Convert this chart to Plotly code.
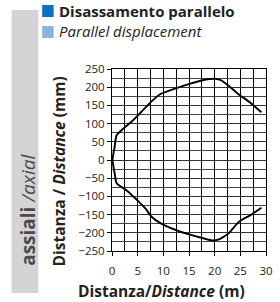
import plotly.graph_objects as go

# Envelope of parallel displacement
distance_m = [29.1, 26.9, 24.7, 22.9, 21.3, 20.1, 17.6, 15.1, 12.7, 9.3, 7.7, 5.3, 4.0, 3.1, 0.9, 0.5, 0.1,
              0.5, 0.9, 2.8, 5.25, 6.5, 7.7, 9.6, 13.3, 16.4, 19.5, 20.7, 22.6, 24.7, 26.9, 29.1]
offset_mm = [131, 158, 180, 202, 219, 223, 219, 209, 198, 180, 161, 126, 108, 97, 68, 35, 0,
             -35, -64, -83, -115, -133, -156, -175, -197, -210, -221, -219, -203, -170, -152, -131]

x_ticks = [0, 5, 10, 15, 20, 25, 30]
y_ticks = [250, 200, 150, 100, 50, 0, -50, -100, -150, -200, -250]

W, H = 280, 302
L, R, T, B = 112, 7, 69, 51
PW, PH = W - L - R, H - T - B

def px(x):
    return (x - L) / PW

def py(y):
    return (H - B - y) / PH

FONT = "Open Sans"

fig = go.Figure()
fig.add_trace(go.Scatter(x=distance_m, y=offset_mm, mode="lines",
                         line=dict(color="black", width=1.9, shape="spline", smoothing=0.5),
                         hoverinfo="skip", showlegend=False))

fig.update_layout(
    width=W, height=H,
    margin=dict(l=L, r=R, t=T, b=B),
    paper_bgcolor="white", plot_bgcolor="white",
    font=dict(family=FONT, color="#222", size=11.5),
    xaxis=dict(range=[0, 30], tickvals=x_ticks, ticks="outside", ticklen=4, tickcolor="black",
               showgrid=True, gridcolor="black", gridwidth=1,
               minor=dict(dtick=2.5, showgrid=True, gridcolor="black", gridwidth=1),
               showline=True, linecolor="black", linewidth=1, mirror=True,
               zeroline=False, ticklabelstandoff=5,
               tickfont=dict(size=11.5, family=FONT)),
    yaxis=dict(range=[-250, 250], tickvals=y_ticks, ticks="outside", ticklen=4, tickcolor="black",
               showgrid=True, gridcolor="#333", gridwidth=1,
               minor=dict(dtick=25, showgrid=True, gridcolor="#444", gridwidth=1),
               showline=True, linecolor="black", linewidth=1, mirror=True,
               zeroline=False, tickfont=dict(size=11.5, family=FONT)),
    shapes=[
        dict(type="rect", xref="paper", yref="paper", x0=px(7), x1=px(35), y0=py(293), y1=py(10),
             fillcolor="#d4d4d6", line=dict(width=0), layer="below"),
        dict(type="rect", xref="paper", yref="paper", x0=px(39), x1=px(51), y0=py(17), y1=py(5),
             fillcolor="#0a72bf", line=dict(width=0)),
        dict(type="rect", xref="paper", yref="paper", x0=px(39), x1=px(51), y0=py(38), y1=py(26),
             fillcolor="#8ab3df", line=dict(width=0)),
    ],
    annotations=[
        dict(text="<b>Disassamento parallelo</b>", xref="paper", yref="paper", x=px(54), y=py(11),
             xanchor="left", yanchor="middle", showarrow=False, font=dict(size=15, color="#222", family=FONT)),
        dict(text="<i>Parallel displacement</i>", xref="paper", yref="paper", x=px(54), y=py(31),
             xanchor="left", yanchor="middle", showarrow=False, font=dict(size=15, color="#222", family=FONT)),
        dict(text="<b>assiali</b> <i>/axial</i>", xref="paper", yref="paper", x=px(24), y=py(210),
             xanchor="center", yanchor="middle", textangle=-90, showarrow=False,
             font=dict(size=19, color="#4a4a4a", family=FONT)),
        dict(text="<b>Distanza / <i>Distance</i> (mm)</b>", xref="paper", yref="paper", x=px(57), y=py(171),
             xanchor="center", yanchor="middle", textangle=-90, showarrow=False,
             font=dict(size=15.5, color="#222", family=FONT)),
        dict(text="<b>Distanza/<i>Distance</i> (m)</b>", xref="paper", yref="paper", x=px(164), y=py(291),
             xanchor="center", yanchor="middle", showarrow=False,
             font=dict(size=15.5, color="#222", family=FONT)),
    ],
)

fig.write_html("out.html", config={"displayModeBar": False},
               post_script="document.body.style.margin='0';document.body.style.padding='0';")
